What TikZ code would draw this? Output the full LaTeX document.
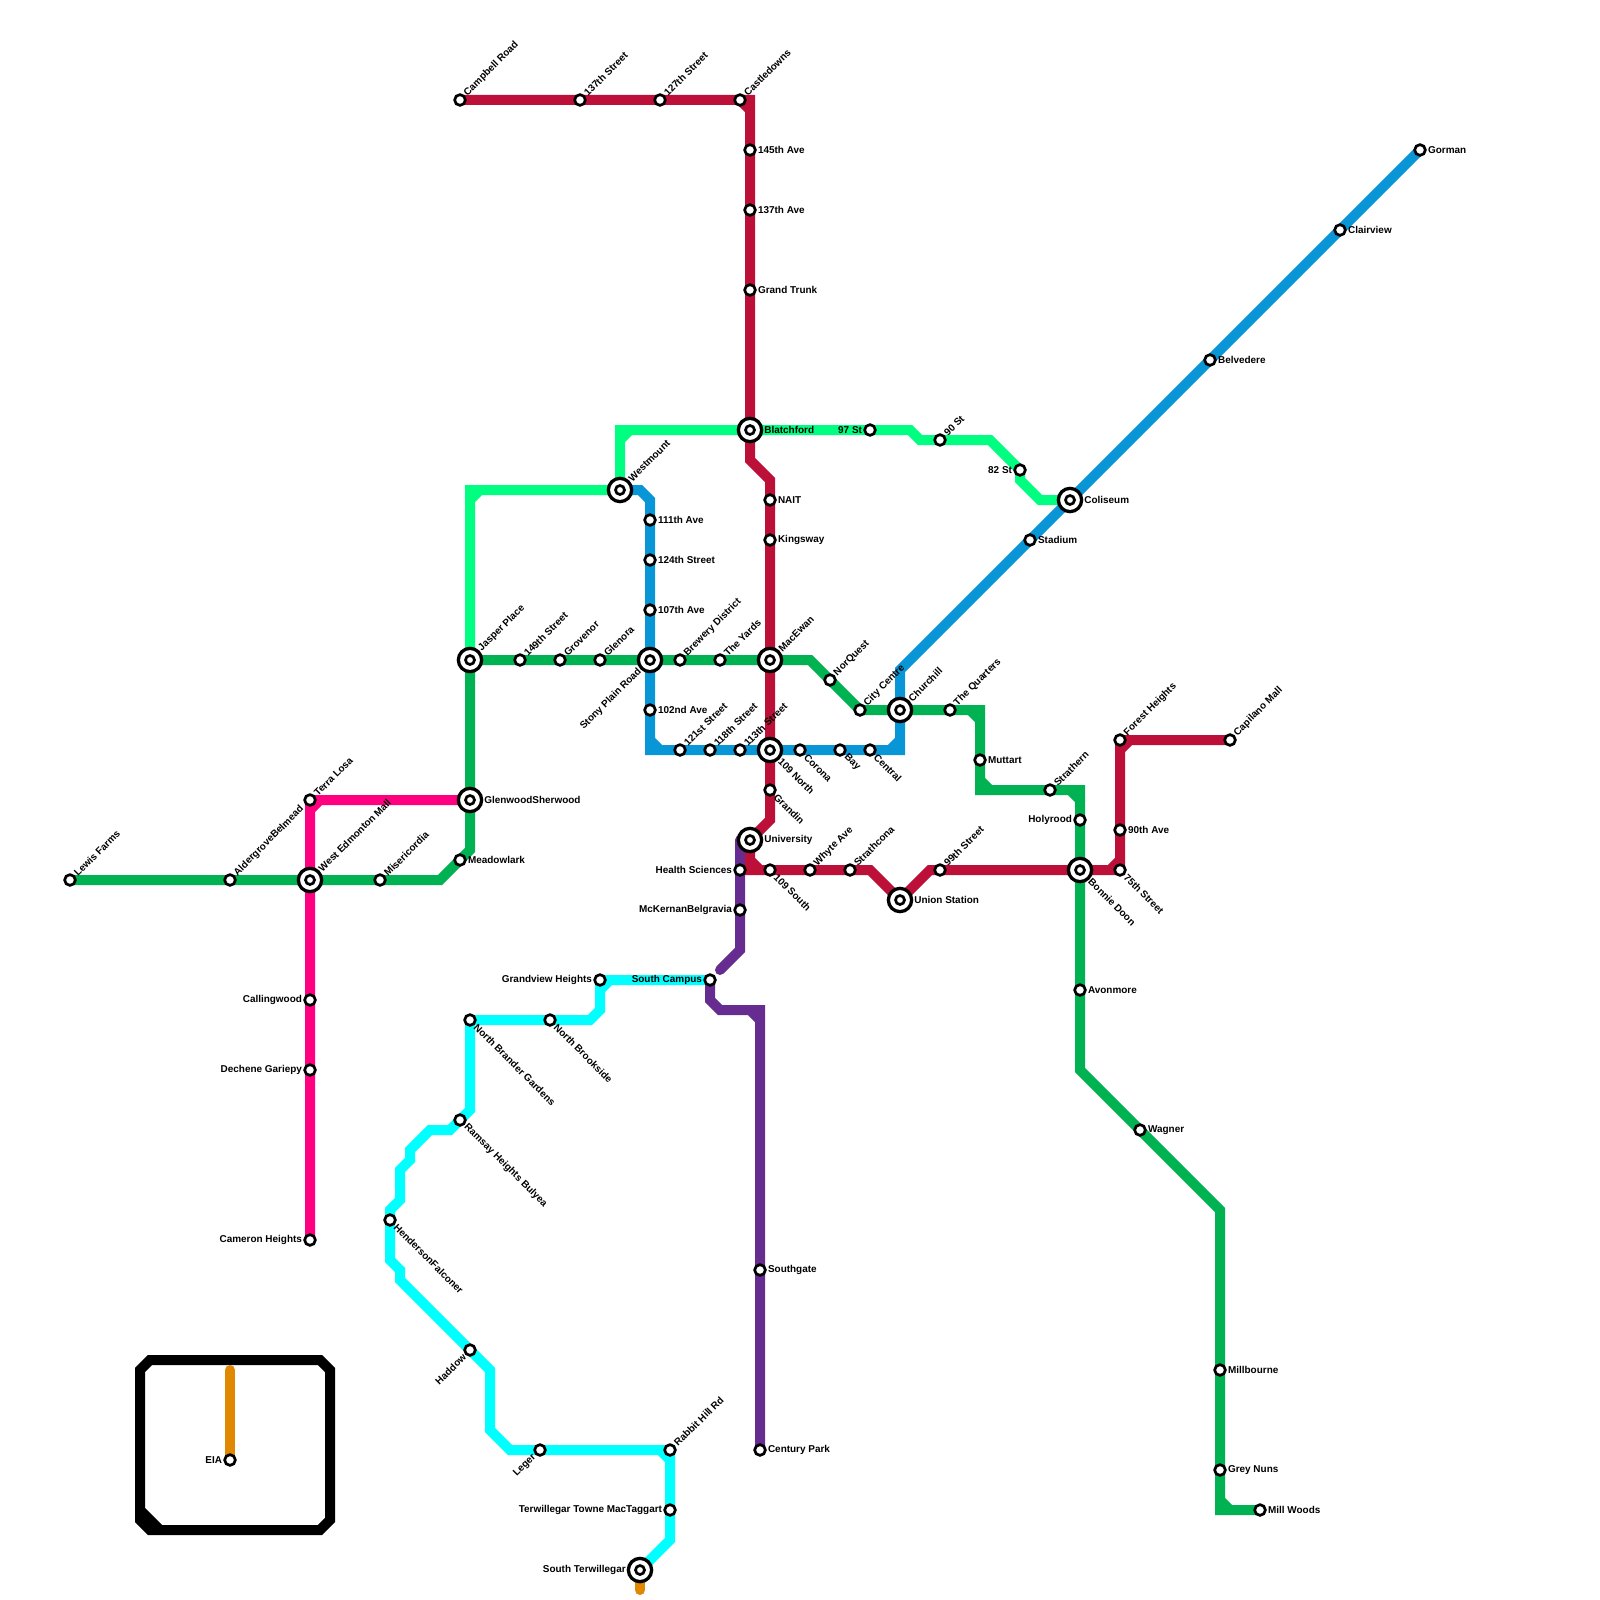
\documentclass[tikz,border=0pt]{standalone}
\usepackage{fontspec}
\setmainfont{Liberation Sans}
\usepackage{xcolor}
\usetikzlibrary{backgrounds}

\definecolor{valley}{HTML}{00B251}
\definecolor{capital}{HTML}{0896D7}
\definecolor{metro}{HTML}{BD1038}
\definecolor{festival}{HTML}{662C90}
\definecolor{westend}{HTML}{FF0080}
\definecolor{northeast}{HTML}{00FF80}
\definecolor{southwest}{HTML}{00FFFF}
\definecolor{airport}{HTML}{E08800}

\tikzset{
  every label/.style={font=\fontsize{2.83}{3}\selectfont\bfseries,inner sep=.2mm},
  label distance=0mm,
  stop/.style={circle,draw=black,fill=white,line width=.27mm,minimum size=1.07mm,inner sep=0mm,outer sep=0mm},
  hub/.style={circle,draw=black,fill=white,line width=.33mm,minimum size=2.33mm,inner sep=0mm,outer sep=0mm,
    path picture={\draw[line width=.27mm] (path picture bounding box.center) circle (.45);}},
  NE/.style={label={[rotate=45,anchor=west]45:#1}},
  SE/.style={label={[rotate=-45,anchor=west]-45:#1}},
  SW/.style={label={[rotate=45,anchor=east]-135:#1}},
  E/.style={label={[anchor=west]0:#1}},
  W/.style={label={[anchor=east]180:#1}},
  route/.style={line width=1mm,line cap=round,line join=miter}
}

\begin{document}
\begin{tikzpicture}[x=1mm,y=-1mm]
  \useasboundingbox (0,0) rectangle (160,160);

  % valley line
  \node[stop,NE=Lewis Farms] (lewis) at (7,88) {};
  \node[stop,NE=AldergroveBelmead] (aldergrove) at (23,88) {};
  \node[hub,NE=West Edmonton Mall] (wem) at (31,88) {};
  \node[stop,NE=Misericordia] (misericordia) at (38,88) {};
  \node[stop,E=Meadowlark] (meadowlark) at (46,86) {};
  \node[hub,E=GlenwoodSherwood] (glenwood) at (47,80) {};
  \node[hub,NE=Jasper Place] (jasper) at (47,66) {};
  \node[stop,NE=149th Street] (st149) at (52,66) {};
  \node[stop,NE=Grovenor] (grovenor) at (56,66) {};
  \node[stop,NE=Glenora] (glenora) at (60,66) {};
  \node[hub,SW=Stony Plain Road] (stony) at (65,66) {};
  \node[stop,NE=Brewery District] (brewery) at (68,66) {};
  \node[stop,NE=The Yards] (yards) at (72,66) {};
  \node[hub,NE=MacEwan] (macewan) at (77,66) {};
  \node[stop,NE=NorQuest] (norquest) at (83,68) {};
  \node[stop,NE=City Centre] (citycentre) at (86,71) {};
  \node[hub,NE=Churchill] (churchill) at (90,71) {};
  \node[stop,NE=The Quarters] (quarters) at (95,71) {};
  \node[stop,E=Muttart] (muttart) at (98,76) {};
  \node[stop,NE=Strathern] (strathern) at (105,79) {};
  \node[stop,W=Holyrood] (holyrood) at (108,82) {};
  \node[hub,SE=Bonnie Doon] (bonnie) at (108,87) {};
  \node[stop,E=Avonmore] (avonmore) at (108,99) {};
  \node[stop,E=Wagner] (wagner) at (114,113) {};
  \node[stop,E=Millbourne] (millbourne) at (122,137) {};
  \node[stop,E=Grey Nuns] (greynuns) at (122,147) {};
  \node[stop,E=Mill Woods] (millwoods) at (126,151) {};

  % capital line
  \node[hub,NE=Westmount] (westmount) at (62,49) {};
  \node[stop,E=111th Ave] (ave111) at (65,52) {};
  \node[stop,E=124th Street] (st124) at (65,56) {};
  \node[stop,E=107th Ave] (ave107) at (65,61) {};
  \node[stop,E=102nd Ave] (ave102) at (65,71) {};
  \node[stop,NE=121st Street] (st121) at (68,75) {};
  \node[stop,NE=118th Street] (st118) at (71,75) {};
  \node[stop,NE=113th Street] (st113) at (74,75) {};
  \node[hub,SE=109 North] (north109) at (77,75) {};
  \node[stop,SE=Corona] (corona) at (80,75) {};
  \node[stop,SE=Bay] (bay) at (84,75) {};
  \node[stop,SE=Central] (central) at (87,75) {};
  \node[stop,E=Stadium] (stadium) at (103,54) {};
  \node[hub,E=Coliseum] (coliseum) at (107,50) {};
  \node[stop,E=Belvedere] (belvedere) at (121,36) {};
  \node[stop,E=Clairview] (clairview) at (134,23) {};
  \node[stop,E=Gorman] (gorman) at (142,15) {};

  % metro line
  \node[stop,NE=Campbell Road] (campbell) at (46,10) {};
  \node[stop,NE=137th Street] (st137) at (58,10) {};
  \node[stop,NE=127th Street] (st127) at (66,10) {};
  \node[stop,NE=Castledowns] (castledowns) at (74,10) {};
  \node[stop,E=145th Ave] (ave145) at (75,15) {};
  \node[stop,E=137th Ave] (ave137) at (75,21) {};
  \node[stop,E=Grand Trunk] (grandtrunk) at (75,29) {};
  \node[hub,E=Blatchford] (blatchford) at (75,43) {};
  \node[stop,E=NAIT] (nait) at (77,50) {};
  \node[stop,E=Kingsway] (kingsway) at (77,54) {};
  \node[stop,SE=Grandin] (grandin) at (77,79) {};
  \node[hub,E=University] (university) at (75,84) {};
  \node[stop,SE=109 South] (south109) at (77,87) {};
  \node[stop,NE=Whyte Ave] (whyte) at (81,87) {};
  \node[stop,NE=Strathcona] (strathcona) at (85,87) {};
  \node[hub,E=Union Station] (union) at (90,90) {};
  \node[stop,NE=99th Street] (st99) at (94,87) {};
  \node[stop,SE=75th Street] (st75) at (112,87) {};
  \node[stop,E=90th Ave] (ave90) at (112,83) {};
  \node[stop,NE=Forest Heights] (forest) at (112,74) {};
  \node[stop,NE=Capilano Mall] (capilano) at (123,74) {};

  % festival line
  \node[stop,W=Health Sciences] (health) at (74,87) {};
  \node[stop,W=McKernanBelgravia] (mckernan) at (74,91) {};
  \node[stop,W=South Campus] (southcampus) at (71,98) {};
  \node[stop,E=Southgate] (southgate) at (76,127) {};
  \node[stop,E=Century Park] (century) at (76,145) {};

  % west end line
  \node[stop,NE=Terra Losa] (terra) at (31,80) {};
  \node[stop,W=Callingwood] (callingwood) at (31,100) {};
  \node[stop,W=Dechene Gariepy] (dechene) at (31,107) {};
  \node[stop,W=Cameron Heights] (cameron) at (31,124) {};

  % northeast line
  \node[stop,W=97 St] (st97) at (87,43) {};
  \node[stop,NE=90 St] (st90) at (94,44) {};
  \node[stop,W=82 St] (st82) at (102,47) {};

  % southwest line
  \node[stop,W=Grandview Heights] (grandview) at (60,98) {};
  \node[stop,SE=North Brookside] (brookside) at (55,102) {};
  \node[stop,SE=North Brander Gardens] (brander) at (47,102) {};
  \node[stop,SE=Ramsay Heights Bulyea] (ramsay) at (46,112) {};
  \node[stop,SE=HendersonFalconer] (henderson) at (39,122) {};
  \node[stop,SW=Haddow] (haddow) at (47,135) {};
  \node[stop,SW=Leger] (leger) at (54,145) {};
  \node[stop,NE=Rabbit Hill Rd] (rabbit) at (67,145) {};
  \node[stop,W=Terwillegar Towne MacTaggart] (towne) at (67,151) {};
  \node[hub,W=South Terwillegar] (terwillegar) at (64,157) {};

  % airport
  \node[stop,W=EIA] (eia) at (23,146) {};
  \coordinate (airportend) at (23,137);
  \coordinate (southend) at (64,159);

  \begin{scope}[on background layer]
    \draw[route,black] (14,137) -- (15,136) -- (32,136) -- (33,137) -- (33,152) -- (32,153) -- (15,153) -- (14,152) -- cycle
      (14,151) -- (16,153);
    \draw[route,airport] (airportend) -- (eia.center);
    \draw[route,airport] (terwillegar.center) -- (southend);
    \draw[route,festival] (74,84) -- (health.center) -- (mckernan.center) -- (74,95) -- (72,97);
    \draw[route,festival] (southcampus.center) -- (71,100) -- (72,101) -- (76,101) -- (southgate.center) -- (century.center)
      (75,101) -- (76,102);
    \draw[route,southwest] (southcampus.center) -- (grandview.center) -- (60,101) -- (59,102) -- (brookside.center) -- (brander.center)
      -- (47,111) -- (ramsay.center) -- (45,113) -- (43,113) -- (41,115) -- (41,116) -- (40,117) -- (40,120) -- (39,121)
      -- (henderson.center) -- (39,126) -- (40,127) -- (40,128) -- (haddow.center) -- (49,137) -- (49,143) -- (51,145)
      -- (leger.center) -- (rabbit.center) -- (towne.center) -- (67,154) -- (terwillegar.center)
      (60,99) -- (61,98) (66,145) -- (67,146);
    \draw[route,westend] (glenwood.center) -- (terra.center) -- (wem.center) -- (callingwood.center) -- (dechene.center) -- (cameron.center)
      (31,81) -- (32,80);
    \draw[route,northeast] (jasper.center) -- (47,49) -- (westmount.center) -- (62,43) -- (blatchford.center) -- (st97.center)
      -- (91,43) -- (92,44) -- (st90.center) -- (99,44) -- (st82.center) -- (102,48) -- (104,50) -- (coliseum.center)
      (47,50) -- (48,49) (62,44) -- (63,43);
    \draw[route,valley] (lewis.center) -- (wem.center) -- (44,88) -- (47,85) -- (jasper.center) -- (81,66) -- (86,71) -- (98,71)
      -- (98,79) -- (108,79) -- (108,107) -- (122,121) -- (122,151) -- (millwoods.center)
      (97,71) -- (98,72) (98,78) -- (99,79) (107,79) -- (108,80) (122,150) -- (123,151);
    \draw[route,metro] (campbell.center) -- (75,10) -- (75,46) -- (77,48) -- (77,82) -- (75,84) -- (75,87) -- (87,87)
      -- (union.center) -- (93,87) -- (st75.center) -- (forest.center) -- (capilano.center)
      (74,10) -- (75,11) (75,86) -- (76,87) (111,87) -- (112,86) (112,75) -- (113,74);
    \draw[route,capital] (westmount.center) -- (64,49) -- (65,50) -- (65,75) -- (90,75) -- (90,67) -- (gorman.center)
      (65,74) -- (66,75) (89,75) -- (90,74);
  \end{scope}
\end{tikzpicture}
\end{document}
